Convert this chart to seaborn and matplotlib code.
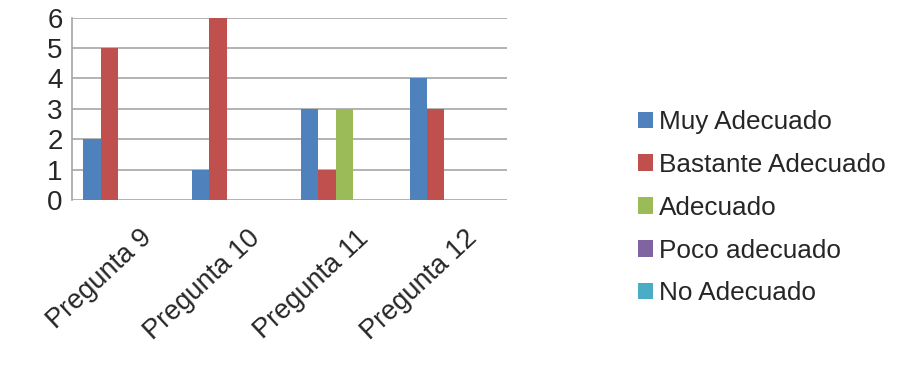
import pandas as pd
import matplotlib
matplotlib.use('Agg')
import matplotlib.pyplot as plt
import seaborn as sns

# valores
preguntas = ['Pregunta 9', 'Pregunta 10', 'Pregunta 11', 'Pregunta 12']
niveles = ['Muy Adecuado', 'Bastante Adecuado', 'Adecuado', 'Poco adecuado', 'No Adecuado']
muy_adecuado = [2, 1, 3, 4]
bastante_adecuado = [5, 6, 1, 3]
adecuado = [0, 0, 3, 0]
poco_adecuado = [0, 0, 0, 0]
no_adecuado = [0, 0, 0, 0]
colores = ['#4F81BD', '#C0504D', '#9BBB59', '#8064A2', '#4BACC6']

series = [muy_adecuado, bastante_adecuado, adecuado, poco_adecuado, no_adecuado]
filas = []
for nivel, vals in zip(niveles, series):
    for p, v in zip(preguntas, vals):
        filas.append({'pregunta': p, 'nivel': nivel, 'valor': v})
df = pd.DataFrame(filas)

sns.set_style('white')
plt.rcParams['font.family'] = ['Liberation Sans', 'DejaVu Sans']

fig = plt.figure(figsize=(9.06, 3.92), dpi=100)
ax = fig.add_axes([0.08, 0.49, 0.48, 0.465])

sns.barplot(data=df, x='pregunta', y='valor', hue='nivel', hue_order=niveles,
            palette=colores, width=0.8, ax=ax, saturation=1, edgecolor='none')

ax.set_ylim(0, 6)
ax.set_yticks(range(0, 7))
ax.yaxis.grid(True, color='#A6A6A6', linewidth=1.2)
ax.set_axisbelow(True)
for s in ['top', 'right', 'bottom']:
    ax.spines[s].set_visible(False)
ax.spines['left'].set_color('#A6A6A6')
ax.spines['left'].set_linewidth(1.2)
ax.tick_params(axis='y', length=5, color='#A6A6A6', labelsize=20, pad=2)
ax.tick_params(axis='x', length=0, labelsize=19.5, pad=18)
plt.setp(ax.get_xticklabels(), rotation=43, ha='right', rotation_mode='anchor')
# mover un poco las etiquetas a la derecha como en el original
import matplotlib.transforms as mtrans
off = mtrans.ScaledTranslation(12 / 100, 0, fig.dpi_scale_trans)
for lab in ax.get_xticklabels():
    lab.set_transform(lab.get_transform() + off)
ax.set_xlabel('')
ax.set_ylabel('')

ax.legend(loc='center left', bbox_to_anchor=(0.678, 0.47), bbox_transform=fig.transFigure,
          frameon=False, fontsize=18.8, handlelength=0.6, handleheight=0.6,
          handletextpad=0.2, labelspacing=0.72)

fig.savefig('out.png', dpi=100)
